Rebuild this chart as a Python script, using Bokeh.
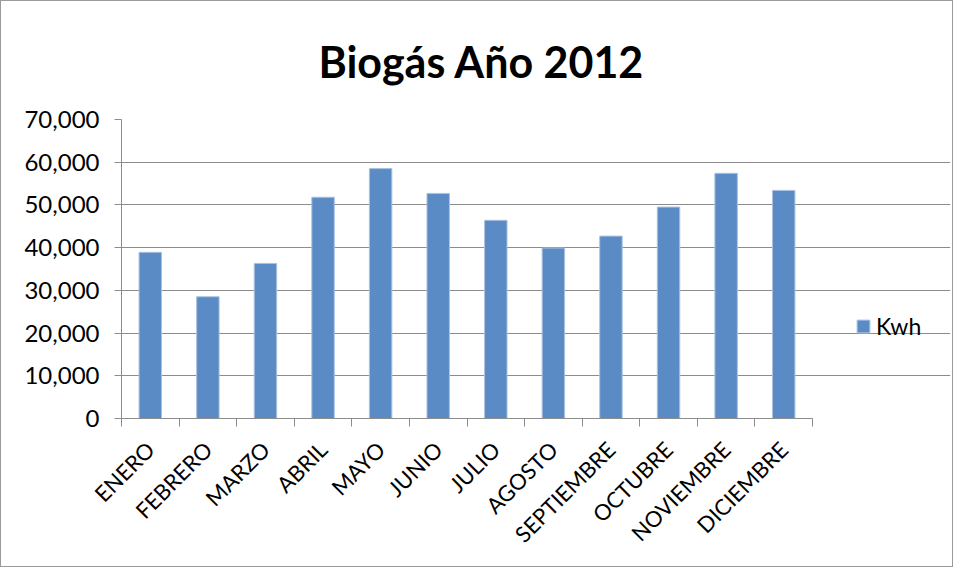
from bokeh.plotting import figure
from bokeh.models import (Range1d, FixedTicker, NumeralTickFormatter, Legend,
                          LegendItem, ColumnDataSource)
from bokeh.embed import file_html
from bokeh.resources import INLINE
from math import pi

months = ["ENERO", "FEBRERO", "MARZO", "ABRIL", "MAYO", "JUNIO", "JULIO",
          "AGOSTO", "SEPTIEMBRE", "OCTUBRE", "NOVIEMBRE", "DICIEMBRE"]
kwh = [38900, 28500, 36300, 51800, 58500, 52700, 46400,
       39900, 42700, 49500, 57400, 53400]
series_name = "Kwh"
title_text = "Biogás Año 2012"
y_ticks = [0, 10000, 20000, 30000, 40000, 50000, 60000, 70000]

FONT = "Lato"
BAR = "#5B8BC5"
GRID = "#8C8C8C"

# layout (pixels)
W, H = 953, 567
LEFT, RIGHT, TOP, BOTTOM = 120, 4, 115, 150
BARS_W = 691                      # width of the category area
FRAME_W = W - LEFT - RIGHT        # frame also hosts the legend on the right

n = len(months)
centers = [i + 0.5 for i in range(n)]
bounds = list(range(n + 1))
x_end = n * FRAME_W / BARS_W
src = ColumnDataSource(dict(x=centers, top=kwh, month=months))

p = figure(width=W, height=H, output_backend="svg", toolbar_location=None,
           x_range=Range1d(0, x_end), y_range=Range1d(y_ticks[0], y_ticks[-1]),
           min_border_left=LEFT, min_border_right=RIGHT,
           min_border_top=TOP, min_border_bottom=BOTTOM)
p.outline_line_color = None
p.background_fill_color = "white"
p.border_fill_color = "white"

p.title.text = title_text
p.title.text_font = FONT
p.title.text_font_style = "bold"
p.title.text_font_size = "43px"
p.title.align = "left"
p.title.offset = 197
p.title.standoff = 65
p.title.text_color = "black"

r = p.vbar(x="x", top="top", width=0.39, source=src,
           fill_color=BAR, line_color="#A9C2E2", line_width=1)

# x axis: labels at centers, ticks at category boundaries
xa = p.xaxis[0]
xa.bounds = (0, n)
xa.ticker = FixedTicker(ticks=centers, minor_ticks=bounds)
xa.major_label_overrides = {c: m for c, m in zip(centers, months)}
xa.major_label_orientation = pi / 4
xa.major_label_text_font = FONT
xa.major_label_text_font_size = "22px"
xa.major_label_text_color = "black"
xa.major_tick_line_color = None
xa.minor_tick_line_color = GRID
xa.minor_tick_out = 8
xa.minor_tick_in = 0
xa.axis_line_color = GRID
xa.major_label_standoff = 19

ya = p.yaxis[0]
ya.ticker = FixedTicker(ticks=y_ticks)
ya.formatter = NumeralTickFormatter(format="0,0")
ya.major_label_text_font = FONT
ya.major_label_text_font_size = "24px"
ya.major_label_text_color = "black"
ya.major_tick_line_color = GRID
ya.major_tick_out = 7
ya.major_tick_in = 0
ya.minor_tick_line_color = None
ya.axis_line_color = GRID
ya.major_label_standoff = 15

p.xgrid.grid_line_color = None
p.ygrid.grid_line_color = GRID
p.ygrid.grid_line_width = 1
p.ygrid.bounds = (0, n)

legend = Legend(items=[LegendItem(label=series_name, renderers=[r])],
                location=(734, 78))
legend.label_text_font = FONT
legend.label_text_font_size = "23px"
legend.label_text_color = "black"
legend.glyph_width = 16
legend.glyph_height = 16
legend.border_line_color = None
legend.background_fill_alpha = 0
legend.padding = 0
legend.margin = 0
legend.label_standoff = 5
p.add_layout(legend)

p.styles = {"border": "1px solid #9A9A9A"}

open("out.html", "w").write(file_html(p, INLINE))
